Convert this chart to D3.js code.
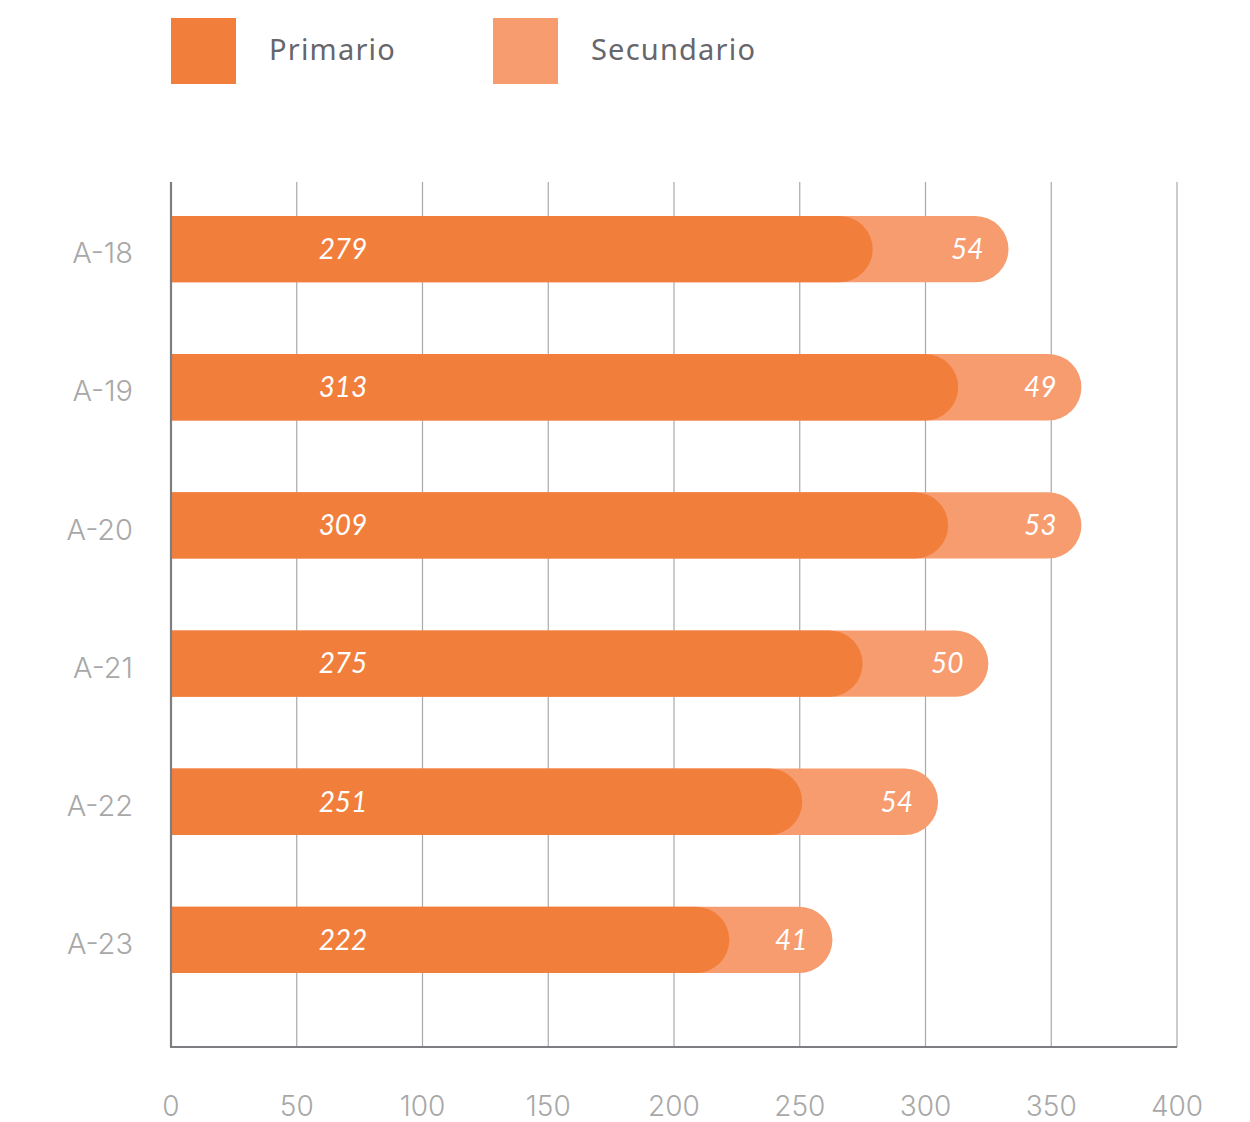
<!DOCTYPE html>
<html><head><meta charset="utf-8">
<script src="https://cdn.jsdelivr.net/npm/d3@7"></script>
<style>body{margin:0;background:#fff}svg{display:block}</style>
</head><body>
<script>
const categories = ["A-18","A-19","A-20","A-21","A-22","A-23"];
const primario = [279,313,309,275,251,222];
const secundario = [54,49,53,50,54,41];
const xTicks = [0,50,100,150,200,250,300,350,400];
const seriesNames = ["Primario","Secundario"];
const colors = ["#F27E3B","#F79C6F"];

(function(){
const W = 1250, H = 1122;
const svg = d3.select("body").append("svg").attr("width", W).attr("height", H);

const x = d3.scaleLinear().domain([0,400]).range([171,1177]);
const y = d3.scaleBand().domain(categories).range([180,1009]).paddingInner(0.52).paddingOuter(0.26);
const plotTop = 182, plotBottom = 1047;

svg.append("g").selectAll("line").data(xTicks.filter(d=>d>0)).join("line")
  .attr("x1", d=>x(d)).attr("x2", d=>x(d)).attr("y1", plotTop).attr("y2", plotBottom)
  .attr("stroke", "#a9a9ad").attr("stroke-width", 1.2);

const data = categories.map((c,i)=>({c, p: primario[i], s: secundario[i]}));
const bw = y.bandwidth();

function roundedBar(x0, x1, yy, h){
  const rr = Math.min(h/2, x1-x0);
  return `M${x0},${yy}H${x1-rr}A${rr},${h/2} 0 0 1 ${x1},${yy+h/2}A${rr},${h/2} 0 0 1 ${x1-rr},${yy+h}H${x0}Z`;
}

const g = svg.append("g");
g.selectAll("path.sec").data(data).join("path").attr("class","sec")
  .attr("d", d=>roundedBar(x(0), x(d.p+d.s), y(d.c), bw)).attr("fill", colors[1]);
g.selectAll("path.pri").data(data).join("path").attr("class","pri")
  .attr("d", d=>roundedBar(x(0), x(d.p), y(d.c), bw)).attr("fill", colors[0]);

const lblFont = "Lato, 'Open Sans', sans-serif";
g.selectAll("text.pl").data(data).join("text").attr("class","pl")
  .attr("x", 343).attr("y", d=>y(d.c)+bw/2).attr("dy","0.35em")
  .attr("text-anchor","middle").attr("fill","#fff").attr("font-style","italic")
  .attr("font-family", lblFont).attr("font-size", 28).text(d=>d.p);
g.selectAll("text.sl").data(data).join("text").attr("class","sl")
  .attr("x", d=>x(d.p+d.s)-25).attr("y", d=>y(d.c)+bw/2).attr("dy","0.35em")
  .attr("text-anchor","end").attr("fill","#fff").attr("font-style","italic")
  .attr("font-family", lblFont).attr("font-size", 28).text(d=>d.s);

svg.append("line").attr("x1", x(0)).attr("x2", x(0)).attr("y1", plotTop).attr("y2", plotBottom)
  .attr("stroke","#7d7d82").attr("stroke-width",2.2);
svg.append("line").attr("x1", x(0)-1).attr("x2", x(400)).attr("y1", plotBottom).attr("y2", plotBottom)
  .attr("stroke","#7d7d82").attr("stroke-width",2.2);

const axisFont = "Inter, 'Open Sans', sans-serif";
svg.append("g").selectAll("text").data(xTicks).join("text")
  .attr("x", d=>x(d)).attr("y", 1106).attr("dy","0.35em").attr("text-anchor","middle")
  .attr("fill","#a8a8a8").attr("font-family",axisFont).attr("font-weight",300)
  .attr("font-size",28).text(d=>d);

svg.append("g").selectAll("text").data(categories).join("text")
  .attr("x", 133).attr("y", d=>y(d)+bw/2+4).attr("dy","0.35em").attr("text-anchor","end")
  .attr("fill","#a8a8a8").attr("font-family",axisFont).attr("font-weight",300)
  .attr("font-size",29).text(d=>d);

const legX = [171, 493];
const leg = svg.append("g").selectAll("g").data(seriesNames).join("g")
  .attr("transform",(d,i)=>`translate(${legX[i]},18)`);
leg.append("rect").attr("width",65).attr("height",66).attr("fill",(d,i)=>colors[i]);
leg.append("text").attr("x",98).attr("y",32).attr("dy","0.35em")
  .attr("fill","#66666c").attr("font-family","'Noto Sans', 'Open Sans', sans-serif")
  .attr("font-size",29).attr("letter-spacing",1.2).text(d=>d);
})();
</script>
</body></html>
